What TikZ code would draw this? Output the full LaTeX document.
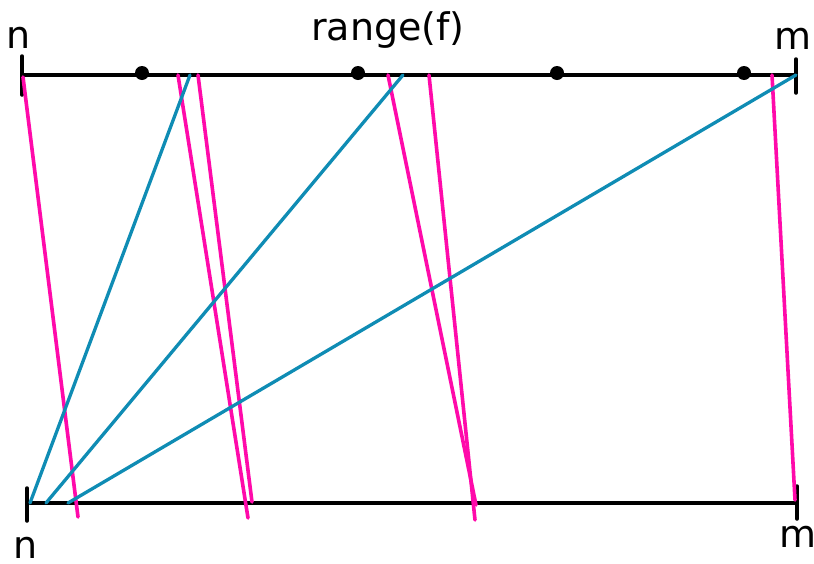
\documentclass[tikz,border=0pt]{standalone}
\usepackage{fontspec}
\setmainfont{DejaVu Sans}
\definecolor{pinkl}{RGB}{255,10,170}
\definecolor{bluel}{RGB}{15,140,180}

\begin{document}
\begin{tikzpicture}[x=1pt,y=-1pt,line cap=round,
 axis/.style={draw,line width=3.5pt},
 tick/.style={draw,line width=3.5pt},
 pk/.style={draw=pinkl,line width=3.6pt},
 bl/.style={draw=bluel,line width=3.3pt},
 dot/.style={circle,fill,inner sep=0pt,minimum size=14pt},
 lab/.style={font=\fontsize{38}{40}\selectfont,inner sep=0pt}]
\useasboundingbox (0,0) rectangle (814,563);
% labels
\node[lab] (ntop) at (19,38) {n};
\node[lab] (rng) at (388,30) {range(f)};
\node[lab] (mtop) at (793,39) {m};
\node[lab] (nbot) at (26,548) {n};
\node[lab] (mbot) at (798,537) {m};
% axes
\coordinate (a1) at (22,75);
\coordinate (a2) at (796,75);
\coordinate (b1) at (27,503);
\coordinate (b2) at (797,503);
\draw[axis] (a1)--(a2);
\draw[axis] (b1)--(b2);
\draw[tick] (22,56)--(22,95);
\draw[tick] (796,59)--(796,93);
\draw[tick] (27,488)--(27,521);
\draw[tick] (797,486)--(797,519);
% points of range(f)
\node[dot] (d1) at (142,73) {};
\node[dot] (d2) at (358,73) {};
\node[dot] (d3) at (557,73) {};
\node[dot] (d4) at (744,73) {};
% pink
\coordinate (p1) at (23,77);   \coordinate (q1) at (78,517);
\coordinate (p2) at (178,75);  \coordinate (q2) at (248,518);
\coordinate (p3) at (198,75);  \coordinate (q3) at (252,502);
\coordinate (p4) at (388,75);  \coordinate (q4) at (476,505);
\coordinate (p5) at (429,75);  \coordinate (q5) at (475,520);
\coordinate (p6) at (772,75);  \coordinate (q6) at (795,500);
\foreach \i in {1,...,6} \draw[pk] (p\i)--(q\i);
% blue
\coordinate (u1) at (190,75);  \coordinate (v1) at (30,503);
\coordinate (u2) at (403,75);  \coordinate (v2) at (46,503);
\coordinate (u3) at (796,75);  \coordinate (v3) at (68,503);
\foreach \i in {1,2,3} \draw[bl] (u\i)--(v\i);
\end{tikzpicture}
\end{document}
